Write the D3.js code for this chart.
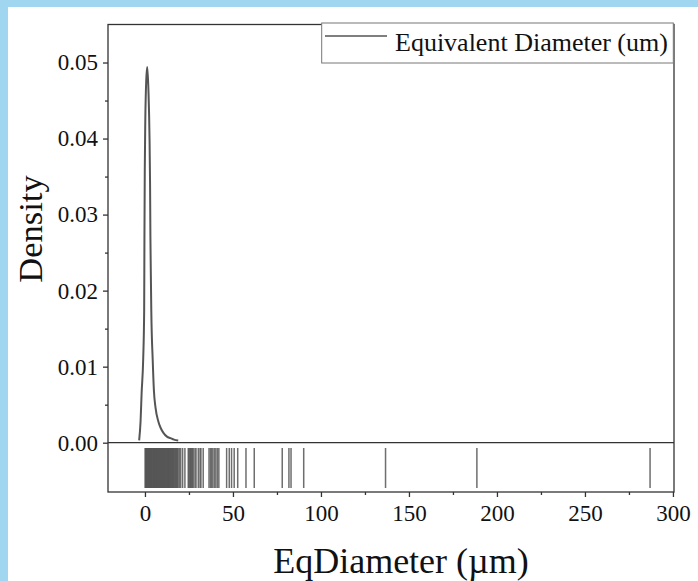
<!DOCTYPE html>
<html>
<head>
	<meta charset="utf-8">
	<title>EqDiameter density</title>
	<script src="https://d3js.org/d3.v7.min.js"></script>
	<style>
		body { margin: 0; background: #a0d6f0; }
		text { font-family: "Liberation Serif", "Times New Roman", serif; fill: #111; }
	</style>
</head>
<body>
	<div class="chart"></div>

	<script type="text/javascript">

		// density curve (x in um, density)
		var curveX = [-3.3, -2.5, -1.9, -1.0, -0.45, -0.3, -0.1, 0.2, 0.7, 1.3, 2.0, 2.6, 2.9, 3.1, 3.35, 3.6, 4.4, 5.1, 6.0, 7.6, 9.0, 10.5, 12.5, 14.5, 16.5, 18.9]
		var curveY = [0.0003, 0.0028, 0.0065, 0.0110, 0.0174, 0.0267, 0.0359, 0.0425, 0.0475, 0.0494, 0.0462, 0.0400, 0.0340, 0.0270, 0.0220, 0.0174, 0.0109, 0.0068, 0.0046, 0.0028, 0.0019, 0.0013, 0.0008, 0.0006, 0.0004, 0.0003]

		// individual measurements shown as the rug
		var rugValues = [
			0.1, 0.4, 0.7, 1.0, 1.2, 1.5, 1.8, 2.1, 2.3, 2.6, 2.9, 3.2, 3.5, 3.7, 4.0, 4.3, 4.6, 4.9,
			5.1, 5.4, 5.7, 6.0, 6.3, 6.6, 6.8, 7.1, 7.4, 7.7, 8.0, 8.3, 8.6, 8.9, 9.2, 9.5, 9.8,
			10.1, 10.4, 10.7, 11.0, 11.3, 11.6, 11.9, 12.2, 12.5, 12.8, 13.1, 13.4, 13.7, 14.0,
			14.4, 14.7, 15.0, 15.4, 15.7, 16.0, 16.4, 16.8, 17.2, 17.6, 18.0, 18.4, 18.8,
			19.5, 20.3, 21.4, 22.7, 24.6, 25.1, 25.6, 26.0, 26.5, 27.0, 27.4, 28.4, 29.0,
			30.3, 31.3, 31.8, 33.1, 36.4, 37.2, 37.9, 38.6, 39.5, 40.3, 41.2, 42.0,
			46.4, 47.9, 49.2, 50.7, 52.7, 57.4, 62.1, 78.0, 81.8, 83.0, 90.2, 136.7, 188.6, 287.0
		]

		var xTicks = [0, 50, 100, 150, 200, 250, 300]
		var yTicks = [0, 0.01, 0.02, 0.03, 0.04, 0.05]
		var legendLabel = 'Equivalent Diameter (um)'

		var width = 698
		var height = 581
		// plot box (top name avoided: window.top is read-only)
		var plotLeft = 108, plotRight = 674, plotTop = 24.5, zeroY = 442.7, plotBottom = 492
		var serif = '"Liberation Serif", "Times New Roman", serif'

		var svg = d3.select('.chart').append('svg')
			.attr('width', width)
			.attr('height', height)
			.style('display', 'block')

		svg.append('rect').attr('width', width).attr('height', height).attr('fill', '#a0d6f0')
		svg.append('rect').attr('x', 8).attr('y', 7).attr('width', width - 8).attr('height', height - 7).attr('fill', '#fff')

		var x = d3.scaleLinear().domain([-21, 300.6]).range([plotLeft, plotRight])
		var y = d3.scaleLinear().domain([0, 0.055]).range([zeroY, plotTop])

		/**
		 * axes
		 */
		function styleAxis(g) {
			g.attr('font-family', serif)
			g.select('.domain').remove()
			g.selectAll('.tick line').attr('stroke', '#333').attr('stroke-width', 1.3)
			g.selectAll('text').attr('font-size', 23).attr('fill', '#111')
		}

		// y minor + major
		svg.append('g').attr('transform', `translate(${plotLeft},0)`)
			.call(d3.axisLeft(y).tickValues(d3.range(0.005, 0.055, 0.01)).tickSize(3).tickFormat(''))
			.call(styleAxis)
		svg.append('g').attr('transform', `translate(${plotLeft},0)`)
			.call(d3.axisLeft(y).tickValues(yTicks).tickSize(5).tickPadding(5).tickFormat(d3.format('.2f')))
			.call(styleAxis)

		// x minor + major
		svg.append('g').attr('transform', `translate(0,${plotBottom})`)
			.call(d3.axisBottom(x).tickValues([25, 75, 125, 175, 225, 275]).tickSize(3).tickFormat(''))
			.call(styleAxis)
		svg.append('g').attr('transform', `translate(0,${plotBottom})`)
			.call(d3.axisBottom(x).tickValues(xTicks).tickSize(5).tickPadding(8))
			.call(styleAxis)

		// frame
		var frame = svg.append('g').attr('stroke', '#333').attr('stroke-width', 1.3).attr('fill', 'none')
		frame.append('rect').attr('x', plotLeft).attr('y', plotTop).attr('width', plotRight - plotLeft).attr('height', plotBottom - plotTop)
		frame.append('line').attr('x1', plotLeft).attr('x2', plotRight).attr('y1', zeroY).attr('y2', zeroY)

		/**
		 * rug
		 */
		svg.append('g')
			.selectAll('line')
			.data(rugValues)
			.enter()
			.append('line')
			.attr('x1', (d) => x(d)).attr('x2', (d) => x(d))
			.attr('y1', 448).attr('y2', 488)
			.attr('stroke', '#555')
			.attr('stroke-opacity', 0.85)
			.attr('stroke-width', 1.5)

		/**
		 * density curve
		 */
		var line = d3.line()
			.x((d, i) => x(curveX[i]))
			.y((d) => y(d))
			.curve(d3.curveMonotoneX)

		svg.append('path')
			.datum(curveY)
			.attr('fill', 'none')
			.attr('stroke', '#555')
			.attr('stroke-width', 2)
			.attr('d', line)

		/**
		 * legend
		 */
		var lg = svg.append('g')
		lg.append('rect')
			.attr('x', 321.7).attr('y', 23).attr('width', 351.6).attr('height', 40)
			.attr('fill', '#fff').attr('stroke', '#777').attr('stroke-width', 1)
		lg.append('line')
			.attr('x1', 325).attr('x2', 387).attr('y1', 36).attr('y2', 36)
			.attr('stroke', '#555').attr('stroke-width', 1.7)
		lg.append('text')
			.attr('x', 395).attr('y', 50.5)
			.attr('font-family', serif)
			.attr('font-size', 26)
			.text(legendLabel)

		/**
		 * axis titles
		 */
		svg.append('text')
			.attr('transform', 'translate(42,229) rotate(-90)')
			.attr('text-anchor', 'middle')
			.attr('font-family', serif)
			.attr('font-size', 34.5)
			.text('Density')

		svg.append('text')
			.attr('x', 401).attr('y', 573)
			.attr('text-anchor', 'middle')
			.attr('font-family', serif)
			.attr('font-size', 36)
			.text('EqDiameter (\u00b5m)')

	</script>
</body>
</html>
